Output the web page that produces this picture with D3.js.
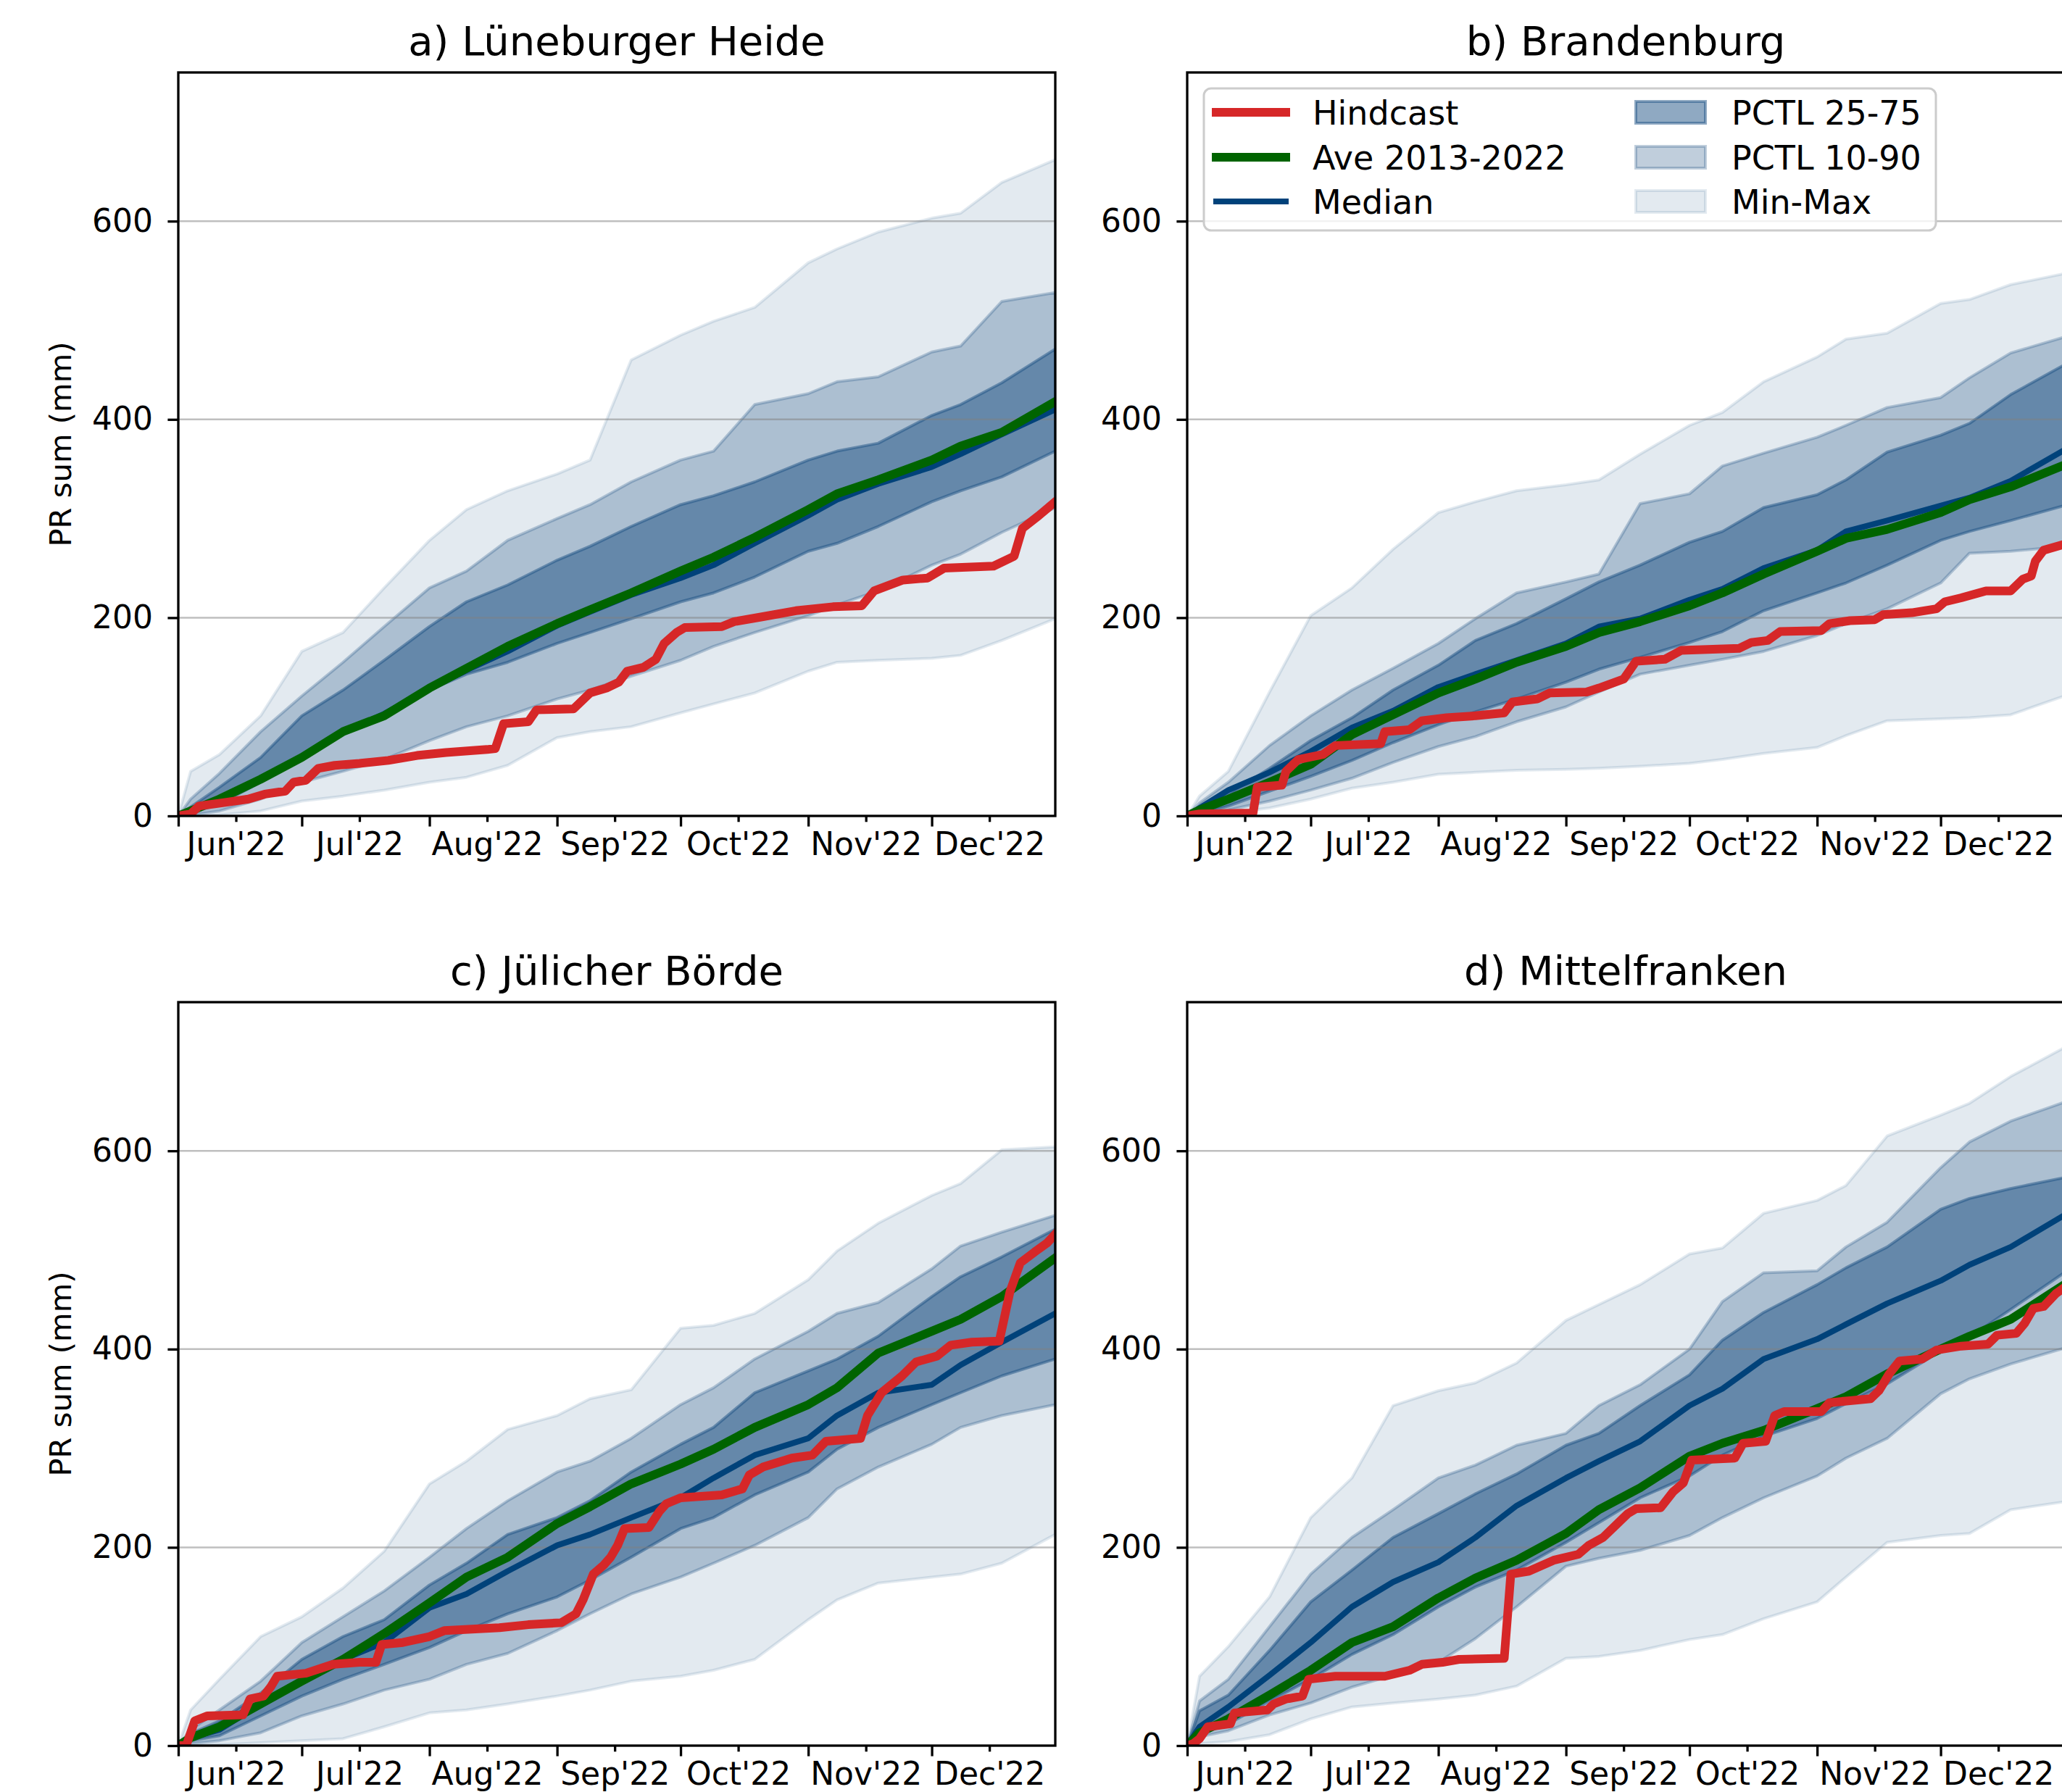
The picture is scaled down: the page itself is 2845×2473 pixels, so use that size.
<!DOCTYPE html>
<html>
<head>
<meta charset="utf-8">
<script src="https://cdn.jsdelivr.net/npm/d3@7"></script>
<style>
  body { margin: 0; background: #fff; }
  text { font-family: "DejaVu Sans", sans-serif; }
</style>
</head>
<body>
<svg id="chart"></svg>
<script>
// sample days (offset from 1 Jun 2022) for the ensemble envelopes
const days = [0, 3, 10, 20, 30, 40, 50, 61, 70, 80, 92, 100, 110, 122, 130, 140, 153, 160, 170, 183, 190, 200, 213];

// a) Lüneburger Heide
const minA = [0, 0, 1, 5, 15, 20, 26, 34, 39, 51, 79, 85, 90, 104, 113, 124, 146, 155, 157, 159, 162, 177, 199];
const p10A = [0, 1, 5, 17, 34, 45, 57, 76, 90, 101, 118, 127, 141, 157, 171, 185, 202, 213, 227, 253, 264, 286, 311];
const p25A = [0, 3, 12, 34, 59, 82, 101, 127, 143, 155, 174, 185, 199, 216, 225, 241, 267, 275, 292, 317, 328, 342, 368];
const p75A = [0, 9, 29, 59, 101, 127, 157, 191, 216, 233, 258, 272, 292, 314, 323, 337, 359, 368, 376, 404, 415, 437, 471];
const p90A = [0, 17, 43, 85, 121, 155, 191, 230, 247, 278, 300, 314, 337, 359, 368, 415, 426, 438, 443, 468, 474, 519, 528];
const maxA = [0, 45, 62, 101, 166, 185, 230, 278, 309, 328, 345, 359, 460, 485, 499, 513, 558, 572, 589, 603, 608, 639, 662];
const medA = [0, 5, 17, 37, 60, 84, 103, 128, 147, 166, 192, 206, 223, 240, 253, 275, 303, 319, 335, 352, 365, 385, 410];
const aveA = [0, 5, 17, 37, 59, 85, 101, 129, 149, 171, 194, 208, 225, 247, 261, 281, 309, 325, 339, 359, 373, 387, 418];
const hcDaysA = [0, 3, 5, 12, 17, 21, 26, 28, 31, 34, 38, 44, 51, 58, 65, 75, 77, 79, 85, 87, 96, 100, 104, 107, 109, 113, 116, 118, 121, 123, 132, 135, 142, 150, 159, 166, 169, 176, 182, 186, 198, 203, 205, 209, 213];
const hcA = [0, 2, 10, 14, 17, 22, 25, 34, 36, 48, 51, 53, 56, 61, 64, 67, 68, 93, 95, 107, 108, 124, 129, 135, 146, 150, 158, 174, 185, 190, 191, 196, 201, 207, 211, 212, 227, 238, 240, 250, 252, 262, 290, 303, 317];

// b) Brandenburg
const minB = [0, 0, 3, 8, 17, 28, 34, 42, 44, 46, 47, 48, 50, 53, 57, 63, 69, 81, 96, 98, 99, 102, 121];
const p10B = [0, 1, 6, 15, 26, 38, 54, 70, 80, 95, 110, 125, 143, 152, 158, 166, 182, 194, 209, 235, 265, 267, 272];
const p25B = [0, 2, 10, 25, 40, 56, 74, 92, 105, 118, 135, 148, 160, 175, 186, 207, 225, 235, 253, 278, 287, 298, 313];
const p75B = [0, 7, 22, 48, 76, 99, 127, 152, 177, 194, 219, 236, 253, 276, 287, 311, 324, 339, 367, 384, 396, 425, 455];
const p90B = [0, 13, 34, 71, 101, 127, 149, 174, 199, 225, 236, 244, 315, 325, 353, 366, 382, 394, 412, 422, 442, 467, 483];
const maxB = [0, 20, 45, 125, 202, 230, 269, 306, 317, 328, 334, 339, 365, 394, 407, 438, 463, 481, 487, 517, 521, 536, 547];
const medB = [0, 8, 26, 44, 65, 89, 106, 130, 143, 157, 174, 191, 199, 218, 229, 250, 268, 287, 298, 313, 321, 338, 369];
const aveB = [0, 6, 17, 34, 52, 82, 102, 124, 138, 155, 171, 185, 196, 212, 225, 244, 267, 280, 289, 306, 319, 332, 354];
const hcDaysB = [0, 3, 16, 17, 23, 24, 27, 33, 36, 47, 48, 54, 57, 63, 70, 77, 79, 85, 88, 97, 100, 106, 109, 116, 120, 134, 137, 141, 144, 154, 156, 161, 167, 169, 176, 182, 184, 188, 194, 200, 203, 205, 206, 208, 213];
const hcB = [0, 2, 3, 29, 31, 45, 57, 62, 71, 73, 85, 87, 96, 99, 101, 104, 115, 118, 124, 125, 129, 138, 156, 158, 167, 169, 175, 177, 186, 187, 194, 197, 198, 203, 205, 209, 216, 220, 227, 227, 239, 242, 257, 268, 274];

// c) Jülicher Börde
const minC = [0, 0, 1, 3, 5, 7, 19, 33, 36, 42, 50, 56, 65, 70, 76, 87, 127, 147, 164, 170, 173, 184, 213];
const p10C = [0, 2, 5, 13, 30, 42, 56, 67, 82, 93, 116, 133, 153, 170, 184, 202, 230, 259, 281, 304, 321, 333, 344];
const p25C = [0, 5, 10, 30, 50, 67, 82, 99, 116, 133, 150, 167, 190, 219, 230, 253, 276, 299, 321, 344, 356, 373, 390];
const p75C = [0, 12, 25, 53, 87, 110, 127, 162, 184, 213, 230, 247, 276, 304, 321, 356, 378, 390, 413, 453, 473, 493, 521];
const p90C = [0, 16, 36, 65, 104, 130, 156, 190, 219, 247, 276, 287, 310, 344, 361, 390, 418, 436, 447, 481, 504, 518, 535];
const maxC = [0, 36, 67, 110, 130, 159, 196, 264, 287, 319, 333, 350, 359, 421, 424, 436, 470, 499, 527, 555, 567, 601, 604];
const medC = [0, 8, 16, 42, 65, 87, 104, 139, 153, 176, 202, 213, 230, 250, 270, 293, 310, 333, 356, 364, 384, 407, 436];
const aveC = [0, 8, 19, 42, 65, 87, 113, 144, 170, 190, 224, 241, 264, 284, 299, 321, 344, 361, 396, 418, 430, 453, 492];
const hcDaysC = [0, 2, 4, 7, 15.7, 17.4, 20.7, 22.4, 24, 31, 37.6, 44, 48, 49.4, 54.5, 61, 64.6, 78, 85, 93, 96.6, 98.3, 100.8, 103.3, 105, 106.7, 108.4, 114.3, 116.8, 118.5, 122, 132, 137, 138.7, 142, 149, 154, 157.3, 165.7, 167.4, 170.8, 175.8, 179.2, 184.3, 187.6, 192.7, 199.4, 202, 204.5, 208, 211, 213];
const hcC = [0, 1, 25, 30, 31, 47, 50, 59, 70, 73, 82, 84, 84, 102, 104, 110, 116, 119, 122, 124, 133, 147, 173, 182, 190, 202, 219, 220, 236, 244, 250, 253, 259, 273, 281, 290, 293, 307, 310, 333, 356, 373, 387, 393, 404, 407, 408, 458, 487, 498, 507, 516];

// d) Mittelfranken
const minD = [0, 2, 4, 11, 27, 39, 43, 47, 51, 60, 88, 90, 96, 107, 112, 128, 145, 170, 205, 212, 214, 238, 246];
const p10D = [0, 9, 15, 31, 43, 59, 71, 84, 108, 140, 181, 189, 197, 212, 230, 250, 272, 290, 310, 355, 370, 385, 401];
const p25D = [0, 11, 22, 45, 67, 92, 112, 140, 160, 177, 205, 225, 250, 272, 293, 312, 330, 345, 365, 398, 412, 440, 477];
const p75D = [0, 35, 51, 96, 145, 177, 210, 234, 254, 274, 303, 315, 343, 374, 409, 437, 465, 482, 503, 541, 552, 562, 573];
const p90D = [0, 45, 67, 120, 173, 210, 238, 270, 283, 303, 315, 343, 364, 400, 448, 477, 479, 503, 528, 583, 609, 630, 649];
const maxD = [0, 70, 100, 150, 230, 270, 343, 358, 366, 386, 429, 445, 465, 496, 502, 537, 550, 565, 615, 636, 648, 675, 704];
const medD = [0, 19, 39, 71, 104, 140, 165, 185, 210, 242, 270, 287, 307, 343, 360, 390, 410, 425, 446, 469, 485, 503, 535];
const aveD = [0, 13, 27, 51, 76, 104, 120, 149, 169, 187, 214, 238, 260, 292, 305, 318, 340, 352, 375, 400, 413, 430, 465];
const hcDaysD = [0, 1.5, 3, 5, 10.5, 11.5, 19.5, 21, 24, 28, 29.5, 36, 48, 54, 57, 62, 66, 77, 78.6, 83, 89, 95, 97.5, 101, 104, 107, 109, 115, 118, 120.5, 122.5, 133, 135, 140.5, 142.7, 145, 154, 156, 161, 166, 168, 170.5, 173, 178.5, 182, 188, 194.5, 196.7, 201.4, 203.4, 205.5, 208, 211, 213];
const hcD = [0, 2, 7, 19, 22, 33, 36, 42, 47, 50, 67, 70, 70, 76, 82, 84, 87, 88, 173, 176, 187, 193, 202, 210, 222, 234, 239, 240, 256, 265, 288, 290, 305, 307, 333, 337, 337, 346, 348, 350, 358, 375, 388, 390, 399, 403, 405, 414, 416, 426, 441, 443, 456, 462];

const yTicks = [0, 200, 400, 600];

const red = "#d62728", green = "#006400", navy = "#00427a", bandColor = "#1b4f82";
const panelW = 1210, panelH = 1026;

const panels = [
    {id: "a", title: "a) Lüneburger Heide", left: 246, top: 100, yLabel: true,
     min: minA, p10: p10A, p25: p25A, p75: p75A, p90: p90A, max: maxA, med: medA, ave: aveA, hcDays: hcDaysA, hc: hcA},
    {id: "b", title: "b) Brandenburg", left: 1638, top: 100, legend: true,
     min: minB, p10: p10B, p25: p25B, p75: p75B, p90: p90B, max: maxB, med: medB, ave: aveB, hcDays: hcDaysB, hc: hcB},
    {id: "c", title: "c) Jülicher Börde", left: 246, top: 1383, yLabel: true,
     min: minC, p10: p10C, p25: p25C, p75: p75C, p90: p90C, max: maxC, med: medC, ave: aveC, hcDays: hcDaysC, hc: hcC},
    {id: "d", title: "d) Mittelfranken", left: 1638, top: 1383,
     min: minD, p10: p10D, p25: p25D, p75: p75D, p90: p90D, max: maxD, med: medD, ave: aveD, hcDays: hcDaysD, hc: hcD}
];

const start = Date.UTC(2022, 5, 1);
const toDate = d => new Date(start + d * 864e5);

const x = d3.scaleUtc().domain([toDate(0), toDate(213)]).range([0, panelW]);
const y = d3.scaleLinear().domain([0, 750]).range([panelH, 0]);

const monthStarts = d3.utcMonth.range(toDate(0), new Date(Date.UTC(2023, 0, 1)));
const midMonths = monthStarts.map(m => d3.utcDay.offset(m, 14));

const svg = d3.select("#chart").attr("width", 2845).attr("height", 2473);
svg.append("rect").attr("width", 2845).attr("height", 2473).attr("fill", "#fff");

const line = d3.line().x(d => x(toDate(d[0]))).y(d => y(d[1]));

function styleAxis(g) {
    g.attr("font-size", 44).attr("font-family", "DejaVu Sans");
    g.select(".domain").remove();
    g.selectAll(".tick line").attr("stroke", "#000").attr("stroke-width", 3.3);
    g.selectAll(".tick text").attr("fill", "#000");
}

panels.forEach(p => {
    const g = svg.append("g").attr("transform", `translate(${p.left},${p.top})`);
    g.append("clipPath").attr("id", "clip-" + p.id)
        .append("rect").attr("width", panelW).attr("height", panelH);
    const plot = g.append("g").attr("clip-path", `url(#clip-${p.id})`);

    // ensemble envelopes: min-max, 10-90, 25-75
    [[p.min, p.max, 0.12], [p.p10, p.p90, 0.28], [p.p25, p.p75, 0.49]].forEach(([lo, hi, a]) => {
        const area = d3.area()
            .x(d => x(toDate(d)))
            .y0((d, i) => y(lo[i]))
            .y1((d, i) => y(hi[i]));
        plot.append("path").datum(days)
            .attr("d", area)
            .attr("fill", bandColor).attr("fill-opacity", a)
            .attr("stroke", bandColor).attr("stroke-opacity", a)
            .attr("stroke-width", 4).attr("stroke-linejoin", "round");
    });

    // horizontal grid
    plot.selectAll(".grid").data(yTicks.slice(1)).join("line")
        .attr("x1", 0).attr("x2", panelW)
        .attr("y1", d => y(d)).attr("y2", d => y(d))
        .attr("stroke", "#7f7f7f").attr("stroke-opacity", 0.5).attr("stroke-width", 2.5);

    // median, average, hindcast
    [[d3.zip(days, p.med), navy, 8], [d3.zip(days, p.ave), green, 12], [d3.zip(p.hcDays, p.hc), red, 12]]
        .forEach(([pts, col, lw]) => {
            plot.append("path").datum(pts)
                .attr("d", line)
                .attr("fill", "none").attr("stroke", col).attr("stroke-width", lw)
                .attr("stroke-linejoin", "round").attr("stroke-linecap", "square");
        });

    // axes: month starts as major ticks, labels on mid-month minor ticks
    g.append("g").attr("transform", `translate(0,${panelH})`)
        .call(d3.axisBottom(x).tickValues(monthStarts).tickSize(14.6).tickFormat(""))
        .call(styleAxis);
    g.append("g").attr("transform", `translate(0,${panelH})`)
        .call(d3.axisBottom(x).tickValues(midMonths).tickSize(8.3).tickPadding(14.5)
            .tickFormat(d3.utcFormat("%b'%y")))
        .call(styleAxis);
    g.append("g")
        .call(d3.axisLeft(y).tickValues(yTicks).tickSize(14.6).tickPadding(20.5))
        .call(styleAxis);

    g.append("rect").attr("width", panelW).attr("height", panelH)
        .attr("fill", "none").attr("stroke", "#000").attr("stroke-width", 3.3);

    g.append("text").attr("x", panelW / 2).attr("y", -24.5)
        .attr("text-anchor", "middle").attr("font-size", 56).text(p.title);

    if (p.yLabel) {
        g.append("text")
            .attr("transform", `translate(-148,${panelH / 2}) rotate(-90)`)
            .attr("text-anchor", "middle").attr("font-size", 41.7)
            .text("PR sum (mm)");
    }

    if (p.legend) {
        const lg = g.append("g").attr("transform", "translate(23,22)");
        lg.append("rect").attr("width", 1010).attr("height", 196).attr("rx", 10)
            .attr("fill", "#fff").attr("fill-opacity", 0.8)
            .attr("stroke", "#cccccc").attr("stroke-width", 3);
        const rows = [33, 95, 156];
        const lineItems = [["Hindcast", red, 12], ["Ave 2013-2022", green, 12], ["Median", navy, 8]];
        const patchItems = [["PCTL 25-75", 0.49], ["PCTL 10-90", 0.28], ["Min-Max", 0.12]];
        lineItems.forEach(([name, col, lw], i) => {
            lg.append("line").attr("x1", 17).attr("x2", 113).attr("y1", rows[i]).attr("y2", rows[i])
                .attr("stroke", col).attr("stroke-width", lw).attr("stroke-linecap", "square");
            lg.append("text").attr("x", 150).attr("y", rows[i]).attr("dy", "0.36em")
                .attr("font-size", 46).text(name);
        });
        patchItems.forEach(([name, a], i) => {
            lg.append("rect").attr("x", 596).attr("y", rows[i] - 15).attr("width", 96).attr("height", 30)
                .attr("fill", bandColor).attr("fill-opacity", a)
                .attr("stroke", bandColor).attr("stroke-opacity", a).attr("stroke-width", 4);
            lg.append("text").attr("x", 728).attr("y", rows[i]).attr("dy", "0.36em")
                .attr("font-size", 46).text(name);
        });
    }
});
</script>
</body>
</html>
